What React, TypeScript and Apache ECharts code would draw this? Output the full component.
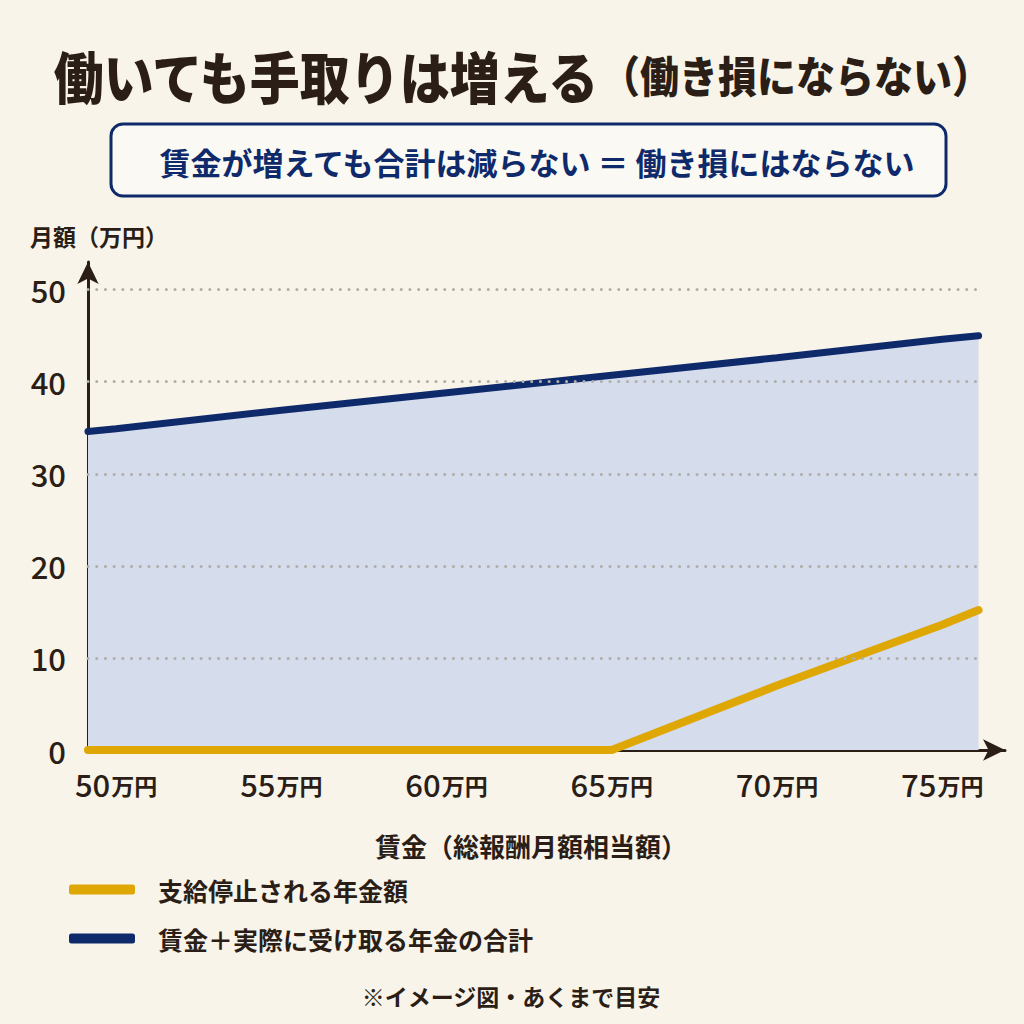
import React, { useEffect, useRef } from "react";
import * as echarts from "echarts";

const wageValues = [49.15, 50, 55, 60, 65, 70, 75, 76.1];
const totalIncome = [34.6, 34.9, 36.9, 38.8, 40.7, 42.6, 44.6, 45.0];
const suspendedPension = [0, 0, 0, 0, 0, 7.0, 13.6, 15.2];
const xTickValues = [50, 55, 60, 65, 70, 75];
const yTickValues = [0, 10, 20, 30, 40, 50];
const seriesNames = ["支給停止される年金額", "賃金＋実際に受け取る年金の合計"];

const FONT = '"Noto Sans CJK JP", "Noto Sans", sans-serif';
const DARK = "#2a1e16";
const NAVY = "#0f2a6b";
const GOLD = "#dfa704";

export default function App() {
  const ref = useRef<HTMLDivElement>(null);
  useEffect(() => {
    if (!ref.current) return;
    const chart = echarts.init(ref.current, undefined, { renderer: "svg" });
    const xs = wageValues;
    const gridLines = yTickValues
      .filter((v) => v > 0)
      .map((v) => [{ coord: [xs[0], v] }, { coord: [xs[xs.length - 1], v] }]);
    chart.setOption({
      animation: false,
      backgroundColor: "#f8f4ea",
      textStyle: { fontFamily: FONT },
      grid: { left: 88, right: 19, top: 262, bottom: 274 },
      xAxis: {
        type: "value",
        min: 49.15,
        max: 76.9,
        splitLine: { show: false },
        axisTick: { show: false },
        axisLine: {
          show: true,
          onZero: false,
          symbol: ["none", "arrow"],
          symbolSize: [16, 22],
          lineStyle: { color: DARK, width: 3 },
        },
        axisLabel: {
          customValues: xTickValues,
          margin: 18,
          formatter: (v: number) => `{n|${v}}{u|万円}`,
          rich: {
            n: { fontSize: 31, fontWeight: 500, color: DARK, fontFamily: FONT },
            u: { fontSize: 23, fontWeight: "bold", color: DARK, fontFamily: FONT, padding: [4, 0, 0, 1] },
          },
        },
      },
      yAxis: {
        type: "value",
        min: 0,
        max: 53,
        splitLine: { show: false },
        axisTick: { show: false },
        axisLine: {
          show: true,
          symbol: ["none", "arrow"],
          symbolSize: [16, 22],
          lineStyle: { color: DARK, width: 3 },
        },
        axisLabel: {
          customValues: yTickValues,
          margin: 22,
          fontSize: 31,
          fontWeight: 500,
          color: DARK,
          fontFamily: FONT,
        },
      },
      legend: {
        orient: "vertical",
        left: 64,
        top: 872,
        itemWidth: 66,
        itemHeight: 10,
        itemGap: 24,
        icon: "roundRect",
        data: seriesNames,
        textStyle: {
          fontSize: 25,
          fontWeight: "bold",
          color: DARK,
          fontFamily: FONT,
          padding: [0, 0, 0, 18],
        },
      },
      series: [
        {
          name: seriesNames[1],
          type: "line",
          data: xs.map((x, i) => [x, totalIncome[i]]),
          showSymbol: false,
          symbol: "none",
          lineStyle: { color: NAVY, width: 7, cap: "round" },
          itemStyle: { color: NAVY },
          areaStyle: { color: "#d5dcec", opacity: 1 },
          z: 2,
          markLine: {
            silent: true,
            symbol: ["none", "none"],
            label: { show: false },
            lineStyle: { color: "#b1afaa", width: 3, type: [0.1, 8.6], cap: "round" },
            data: gridLines,
          },
        },
        {
          name: seriesNames[0],
          type: "line",
          data: xs.map((x, i) => [x, suspendedPension[i]]),
          showSymbol: false,
          symbol: "none",
          lineStyle: { color: GOLD, width: 8, cap: "round" },
          itemStyle: { color: GOLD },
          z: 3,
        },
      ],
      graphic: [
        {
          type: "text",
          x: 521,
          y: 74,
          scaleY: 1.12,
          style: {
            text: "{a|働いても手取りは増える}{b|（働き損にならない）}",
            align: "center",
            verticalAlign: "middle",
            rich: {
              a: { fontSize: 50, fontWeight: 900, fill: DARK, fontFamily: FONT },
              b: { fontSize: 39, fontWeight: 900, fill: DARK, fontFamily: FONT },
            },
          },
        },
        {
          type: "rect",
          shape: { x: 111, y: 124, width: 835, height: 72, r: 12 },
          style: { fill: "#fbf9f3", stroke: NAVY, lineWidth: 3 },
        },
        {
          type: "text",
          x: 537,
          y: 161,
          style: {
            text: "賃金が増えても合計は減らない ＝ 働き損にはならない",
            align: "center",
            verticalAlign: "middle",
            fontSize: 31,
            fontWeight: "bold",
            fill: NAVY,
            fontFamily: FONT,
          },
        },
        {
          type: "text",
          x: 30,
          y: 236,
          style: {
            text: "月額（万円）",
            align: "left",
            verticalAlign: "middle",
            fontSize: 23,
            fontWeight: "bold",
            fill: DARK,
            fontFamily: FONT,
          },
        },
        {
          type: "text",
          x: 531,
          y: 845,
          style: {
            text: "賃金（総報酬月額相当額）",
            align: "center",
            verticalAlign: "middle",
            fontSize: 26,
            fontWeight: "bold",
            fill: DARK,
            fontFamily: FONT,
          },
        },
        {
          type: "text",
          x: 511,
          y: 996,
          style: {
            text: "※イメージ図・あくまで目安",
            align: "center",
            verticalAlign: "middle",
            fontSize: 23,
            fontWeight: "bold",
            fill: DARK,
            fontFamily: FONT,
          },
        },
      ],
    });
    return () => chart.dispose();
  }, []);
  return (
    <div
      ref={ref}
      style={{ position: "fixed", left: 0, top: 0, width: 1024, height: 1024 }}
    />
  );
}
